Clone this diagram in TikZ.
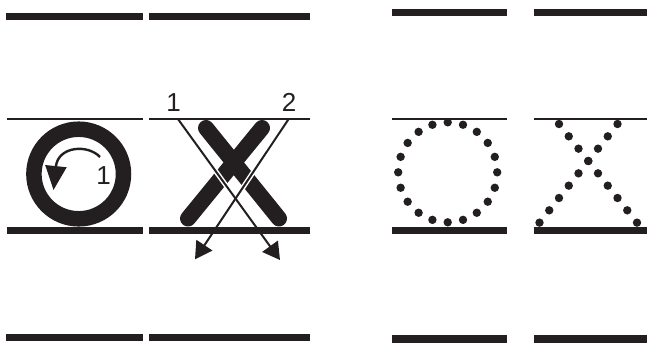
\documentclass[tikz,border=0pt]{standalone}
\usepackage{fontspec}
\setmainfont{Liberation Sans}
\usetikzlibrary{arrows.meta,calc}
\definecolor{ink}{HTML}{231F20}
\tikzset{
  bar/.style={fill=ink, draw=none},
  thinline/.style={draw=ink, line width=2pt},
  xstroke/.style={draw=ink, line width=16pt, line cap=round},
  casing/.style={draw=white, line width=5pt},
  thinarrow/.style={draw=ink, line width=2pt, -{Triangle[length=17pt,width=19pt]}},
  lbl/.style={font=\fontsize{26}{26}\selectfont, text=ink, inner sep=0pt},
  dot/.style={circle, fill=ink, draw=none, minimum size=8.4pt, inner sep=0pt}
}
\begin{document}
\begin{tikzpicture}[x=1pt,y=-1pt]
\useasboundingbox (0,0) rectangle (647,346);
% outer bars
\fill[bar] (6,12.5) rectangle (142.7,19.5);
\fill[bar] (149,12.5) rectangle (310,19.5);
\fill[bar] (392,9.1) rectangle (506.7,16.2);
\fill[bar] (534,9.1) rectangle (647,16.2);
\fill[bar] (6,333.8) rectangle (142.7,340.9);
\fill[bar] (149,333.8) rectangle (310,340.9);
\fill[bar] (392,335.2) rectangle (506.7,342.8);
\fill[bar] (534,335.2) rectangle (647,342.8);

% ---- panel 1: ring
\coordinate (c1) at (78.7,174);
\draw[draw=ink, line width=15.5pt] (c1) circle[radius=44.8];
\coordinate (a1) at (100,157);
\coordinate (a2) at (53.5,190);
\draw[draw=ink, line width=2.4pt, -{Triangle[length=24pt,width=21pt]}]
  (a1) .. controls (88,144) and (58,146) .. (a2);
\node[lbl] (one) at (103.5,176) {1};

% ---- panel 2: thick X with thin arrows
\coordinate (xa1) at (206,128);
\coordinate (xa2) at (279,218.5);
\coordinate (xb1) at (262,128);
\coordinate (xb2) at (188,218.5);
\draw[xstroke] (xa1) -- (xa2);
\draw[xstroke] (xb1) -- (xb2);
\coordinate (p1) at (178.3,119.5);
\coordinate (q1) at (280,260);
\coordinate (p2) at (288.3,119.5);
\coordinate (q2) at (195,259.3);
\draw[casing] (p1) -- ($(p1)!0.9!(q1)$);
\draw[casing] (p2) -- ($(p2)!0.9!(q2)$);
\draw[thinarrow] (p1) -- (q1);
\draw[thinarrow] (p2) -- (q2);
\node[lbl] (lab1) at (173.5,102.5) {1};
\node[lbl] (lab2) at (289,102.5) {2};

% panel lines (left)
\draw[thinline] (6.7,119.3) -- (142.7,119.3);
\draw[thinline] (149.3,119.3) -- (310,119.3);
\fill[bar] (6.7,226.5) rectangle (142.7,233.5);
\fill[bar] (149.3,226.5) rectangle (310,233.5);

% ---- panel 3: dotted circle
\draw[thinline] (392,119) -- (506.7,119);
\fill[bar] (392,226.5) rectangle (506.7,233.5);
\foreach \k in {0,...,19} {
  \node[dot] (dc\k) at ({447.7+49.5*cos(90+18*\k)},{172.3-50*sin(90+18*\k)}) {};
}

% ---- panel 4: dotted X
\draw[thinline] (534,119) -- (647,119);
\fill[bar] (534,226.5) rectangle (647,233.5);
\foreach \k in {0,...,8} {
  \node[dot] (da\k) at ({559+9.75*\k},{124+12.33*\k}) {};
  \node[dot] (db\k) at ({617.5-9.75*\k},{124+12.33*\k}) {};
}
\end{tikzpicture}
\end{document}
